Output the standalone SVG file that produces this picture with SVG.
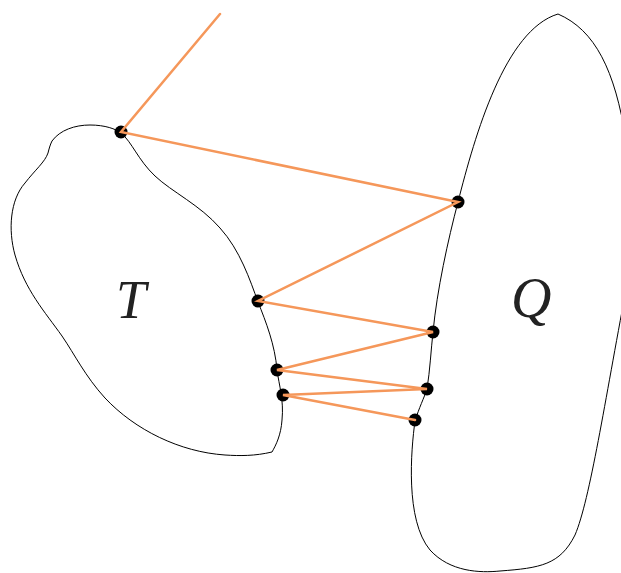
<svg xmlns="http://www.w3.org/2000/svg" width="621" height="573" viewBox="0 0 621 573">
<style>
.shape{fill:none;stroke:#000;stroke-width:1}
.dot{fill:#000}
.edge{stroke:#F5975A;stroke-width:2.5;fill:none;stroke-linecap:round}
.lbl{font-family:"Liberation Serif",serif;font-style:italic;fill:#222}
</style>
<rect width="621" height="573" fill="#fff"/>
<g id="T">
<path class="shape" d="M 52,141 C 60,130 75,125 90,125 C 105,125 116,129 121,133 C 132,142 138,160 155,176 C 172,192 200,205 220,228 C 240,250 250,280 258,302 C 266,322 275,345 277,370 C 279,385 284,400 282,420 C 281,435 276,445 272,452 C 255,456 240,456 225,455 C 180,452 135,430 105,398 C 85,376 75,355 62,336 C 45,312 25,290 15,255 C 8,230 10,200 25,183 C 35,170 45,162 48,153 C 49,149 50,145 52,141 Z"/>
<text class="lbl" x="116" y="318" font-size="54">T</text>
</g>
<g id="Q">
<path class="shape" d="M 415,421 C 419,408 424,398 427,389 C 430,370 431,350 433,332 C 437,290 448,240 458,202 C 475,135 505,30 558,14 C 595,30 615,70 626,140 M 415,421 C 411,450 405,520 430,550 C 450,572 480,573 500,571 C 540,568 560,565 575,535 C 590,500 605,400 626,290"/>
<text class="lbl" x="511" y="317" font-size="56">Q</text>
</g>
<g id="points">
<circle class="dot" cx="121" cy="132" r="6.5"/>
<circle class="dot" cx="458" cy="202" r="6.5"/>
<circle class="dot" cx="258" cy="301" r="6.5"/>
<circle class="dot" cx="433" cy="332" r="6.5"/>
<circle class="dot" cx="277" cy="370" r="6.5"/>
<circle class="dot" cx="427" cy="389" r="6.5"/>
<circle class="dot" cx="283" cy="395" r="6.5"/>
<circle class="dot" cx="415" cy="420" r="6.5"/>
</g>
<g id="connectors">
<polyline class="edge" points="220,14 121,132 458,202 258,301 433,332 277,370 427,389 283,395 415,420"/>
</g>
</svg>
